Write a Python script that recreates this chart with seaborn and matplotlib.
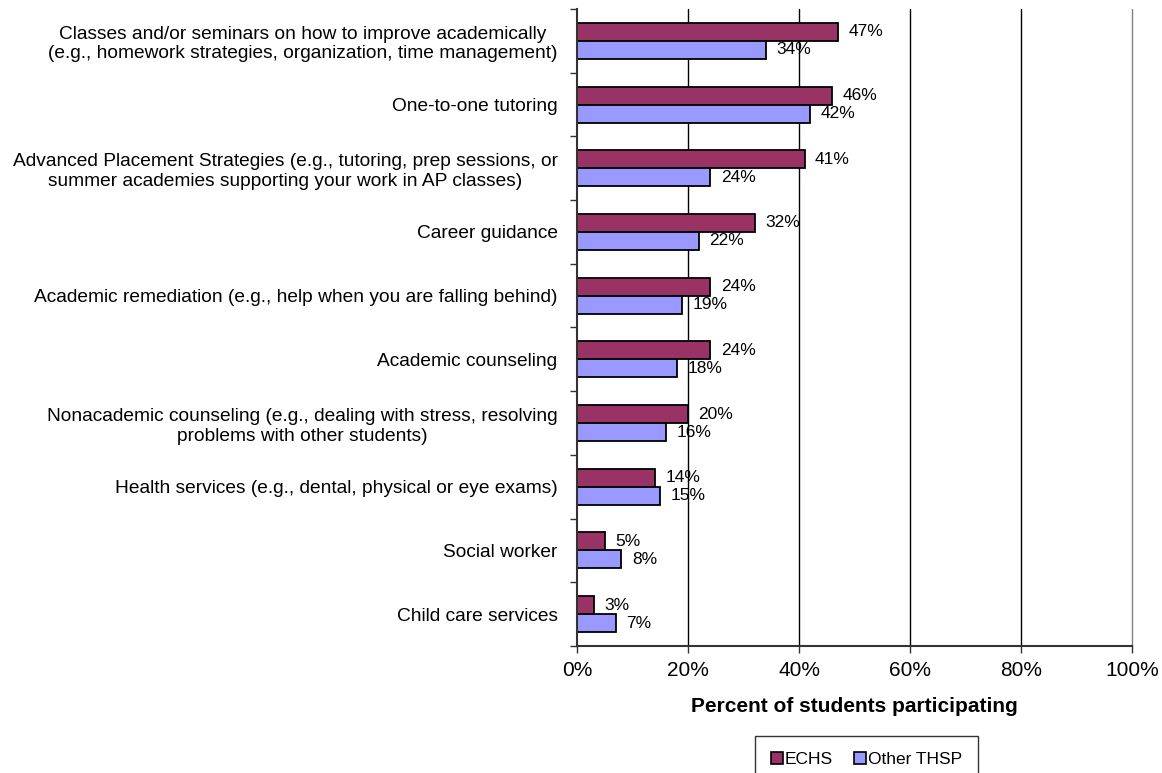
import matplotlib
matplotlib.use("Agg")
import matplotlib.pyplot as plt
import seaborn as sns
import pandas as pd
from matplotlib.patches import Patch
from matplotlib.ticker import FuncFormatter

categories = [
    "Classes and/or seminars on how to improve academically\n(e.g., homework strategies, organization, time management)",
    "One-to-one tutoring",
    "Advanced Placement Strategies (e.g., tutoring, prep sessions, or\nsummer academies supporting your work in AP classes)",
    "Career guidance",
    "Academic remediation (e.g., help when you are falling behind)",
    "Academic counseling",
    "Nonacademic counseling (e.g., dealing with stress, resolving\nproblems with other students)",
    "Health services (e.g., dental, physical or eye exams)",
    "Social worker",
    "Child care services",
]
echs = [47, 46, 41, 32, 24, 24, 20, 14, 5, 3]
other_thsp = [34, 42, 24, 22, 19, 18, 16, 15, 8, 7]
series_names = ["ECHS", "Other THSP"]
colors = ["#993366", "#9999FF"]
x_ticks = [0, 20, 40, 60, 80, 100]

df = pd.DataFrame({
    "category": categories * 2,
    "value": echs + other_thsp,
    "group": [series_names[0]] * len(categories) + [series_names[1]] * len(categories),
})

sns.set_style("white")
plt.rcParams["font.family"] = ["Liberation Sans", "DejaVu Sans"]
plt.rcParams["text.color"] = "black"
plt.rcParams["axes.labelcolor"] = "black"
plt.rcParams["xtick.color"] = "black"
plt.rcParams["ytick.color"] = "black"

fig = plt.figure(figsize=(11.62, 7.73), dpi=100)
ax = fig.add_axes([0.4966, 0.1643, 0.4776, 0.8241])

sns.barplot(data=df, y="category", x="value", hue="group", order=categories,
            hue_order=series_names, palette=colors, orient="h", width=0.565,
            edgecolor="black", linewidth=1.3, saturation=1, legend=False, ax=ax)

for container, vals in zip(ax.containers, [echs, other_thsp]):
    ax.bar_label(container, labels=[f"{v}%" for v in vals], padding=7.5,
                 fontsize=12.5, color="black")

ax.set_xlim(0, 100)
ax.set_ylim(len(categories) - 0.5, -0.5)
ax.set_xticks(x_ticks)
ax.xaxis.set_major_formatter(FuncFormatter(lambda v, p: f"{int(v)}%"))
ax.set_yticks([i - 0.5 for i in range(len(categories) + 1)], minor=False)
ax.set_yticklabels([])
ax.set_yticks(range(len(categories)), minor=True)
ax.set_yticklabels(categories, minor=True, fontsize=13.8, ha="right")
ax.tick_params(axis="y", which="minor", length=0, pad=14)
ax.tick_params(axis="y", which="major", length=5, width=1, direction="out", color="#333333", left=True)
ax.tick_params(axis="x", length=5, width=1, direction="out", color="#333333", bottom=True,
               labelsize=15, pad=6, labelcolor="black")
for lbl in ax.get_yticklabels(minor=True):
    lbl.set_multialignment("center")
    lbl.set_color("black")

ax.grid(False)
for xv in x_ticks[1:]:
    ax.axvline(xv, color="black" if xv < 100 else "#808080", linewidth=1.0, zorder=0, clip_on=False)
for side in ["top", "right"]:
    ax.spines[side].set_visible(False)
ax.spines["left"].set_color("#333333")
ax.spines["bottom"].set_color("#333333")
ax.spines["left"].set_linewidth(1.5)
ax.spines["bottom"].set_linewidth(1.5)

ax.set_ylabel("")
ax.set_xlabel("Percent of students participating", fontsize=15, fontweight="bold",
              labelpad=12, color="black")

handles = [Patch(facecolor=c, edgecolor="black", linewidth=1.2) for c in colors]
leg = fig.legend(handles, series_names, loc="upper center", bbox_to_anchor=(0.7457, 0.048),
                 ncol=2, frameon=True, fontsize=12.5, handlelength=0.69, handleheight=0.69,
                 handletextpad=0.12, columnspacing=1.2, borderpad=0.9, borderaxespad=0,
                 fancybox=False)
leg.get_frame().set_edgecolor("black")
leg.get_frame().set_linewidth(1)
for t in leg.get_texts():
    t.set_color("black")

fig.savefig("out.png", dpi=100)
